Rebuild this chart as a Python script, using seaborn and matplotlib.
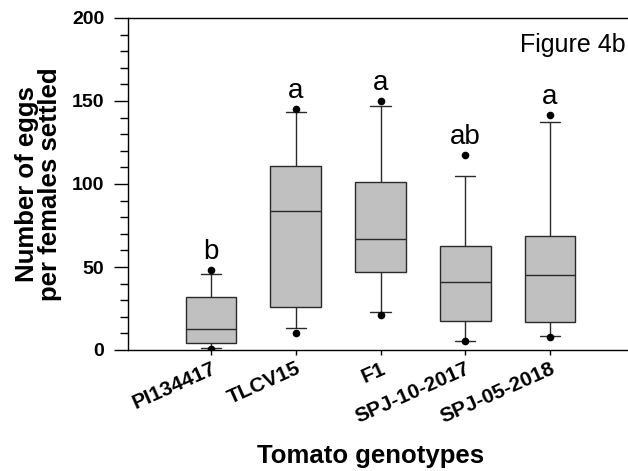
import matplotlib
matplotlib.use("Agg")
import matplotlib.pyplot as plt
from matplotlib.ticker import MultipleLocator
import pandas as pd
import seaborn as sns

genotypes = ["PI134417", "TLCV15", "F1", "SPJ-10-2017", "SPJ-05-2018"]

# Box summaries per genotype
whisker_low = [1.0, 13.4, 22.7, 5.6, 8.6]
q1 = [4.0, 26.1, 47.2, 17.7, 16.7]
median = [12.8, 83.5, 66.9, 40.8, 45.4]
q3 = [32.1, 110.8, 101.0, 62.4, 68.9]
whisker_high = [45.8, 143.4, 147.0, 104.6, 137.3]

# Extreme observations shown as dots
point_low = [0.4, 10.2, 21.3, 5.4, 7.6]
point_high = [48.4, 145.4, 150.2, 117.5, 141.6]

# Significance groups
letters = ["b", "a", "a", "ab", "a"]

# Five-number rows: with whis=(0, 100) the box and whiskers reproduce them exactly
box_rows = []
for i, g in enumerate(genotypes):
    for v in (whisker_low[i], q1[i], median[i], q3[i], whisker_high[i]):
        box_rows.append({"genotype": g, "eggs": v})
box_df = pd.DataFrame(box_rows)

point_rows = []
for i, g in enumerate(genotypes):
    point_rows.append({"genotype": g, "eggs": point_low[i]})
    point_rows.append({"genotype": g, "eggs": point_high[i]})
point_df = pd.DataFrame(point_rows)

sns.set_style("ticks")
plt.rcParams["font.family"] = ["Liberation Sans", "DejaVu Sans"]
plt.rcParams["text.color"] = "black"
plt.rcParams["axes.labelcolor"] = "black"
plt.rcParams["xtick.color"] = "black"
plt.rcParams["ytick.color"] = "black"

fig = plt.figure(figsize=(6.28, 4.71), dpi=100)
ax = fig.add_axes([128 / 628, 1 - 350 / 471, 500 / 628, 332 / 471])

sns.boxplot(
    data=box_df, x="genotype", y="eggs", order=genotypes,
    color="#c0c0c0", saturation=1, width=0.6, whis=(0, 100),
    showfliers=False, linecolor="#2a2a2a", linewidth=1.0,
    capwidths=0.24, ax=ax,
)
sns.stripplot(
    data=point_df, x="genotype", y="eggs", order=genotypes,
    jitter=False, color="black", size=5.5, linewidth=0, ax=ax, zorder=5,
)

for i, lab in enumerate(letters):
    ax.text(i, point_high[i] + 6.5, lab, ha="center", va="baseline",
            fontsize=20, color="black")

ax.set_xlim(-0.98, 4.92)
ax.set_ylim(0, 200)
ax.yaxis.set_major_locator(MultipleLocator(50))
ax.yaxis.set_minor_locator(MultipleLocator(10))

for side in ("left", "bottom", "top"):
    ax.spines[side].set_visible(True)
    ax.spines[side].set_linewidth(1.0)
    ax.spines[side].set_color("black")
ax.spines["right"].set_visible(False)

ax.tick_params(axis="y", which="major", direction="out", length=10, width=1,
               labelsize=14, pad=7, right=False)
ax.tick_params(axis="y", which="minor", direction="out", length=6, width=1,
               right=False)
ax.tick_params(axis="x", which="major", direction="out", length=3.5, width=1,
               labelsize=15, pad=3, top=False)
for lab in ax.get_yticklabels():
    lab.set_fontweight("bold")
for lab in ax.get_xticklabels():
    lab.set_fontweight("bold")
    lab.set_rotation(24)
    lab.set_ha("right")
    lab.set_va("top")
    lab.set_rotation_mode("anchor")

ax.set_ylabel("Number of eggs\nper females settled", fontsize=18.5,
              fontweight="bold", linespacing=0.95)
ax.yaxis.set_label_coords(-0.132, 0.5)
ax.set_xlabel("Tomato genotypes", fontsize=18.5, fontweight="bold")
ax.xaxis.set_label_coords(0.486, -0.283)
ax.xaxis.label.set_va("top")

fig.text(626 / 628, 1 - 52 / 471, "Figure 4b", ha="right", va="baseline",
         fontsize=18, color="black")

fig.savefig("out.png", dpi=100)
